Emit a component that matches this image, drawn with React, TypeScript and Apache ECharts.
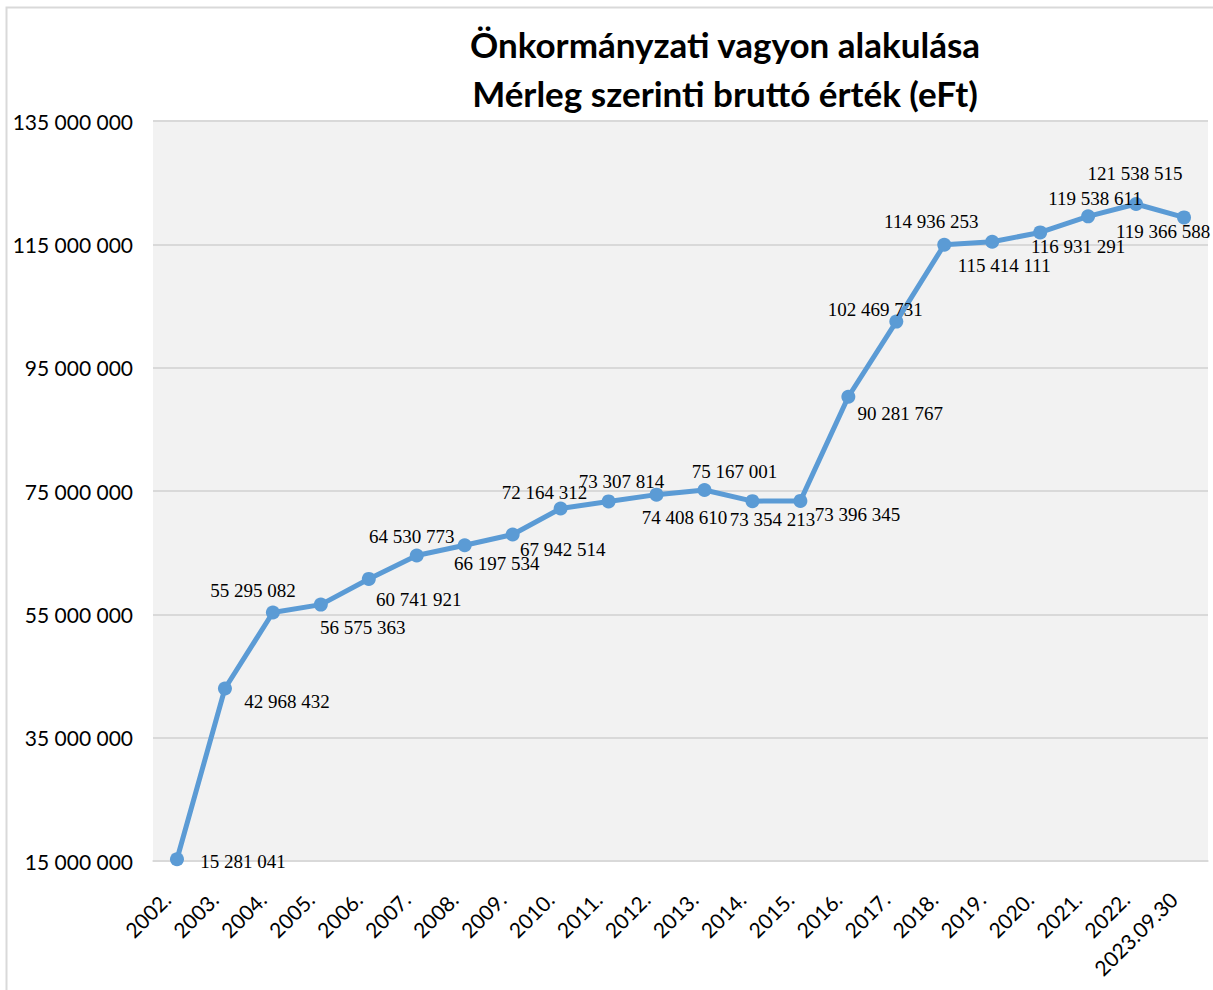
import React, { useEffect, useRef } from "react";
import * as echarts from "echarts";

const TITLE_LINE_1 = "Önkormányzati vagyon alakulása";
const TITLE_LINE_2 = "Mérleg szerinti bruttó érték (eFt)";

const CATEGORIES = [
  "2002.", "2003.", "2004.", "2005.", "2006.", "2007.", "2008.", "2009.", "2010.", "2011.",
  "2012.", "2013.", "2014.", "2015.", "2016.", "2017.", "2018.", "2019.", "2020.", "2021.",
  "2022.", "2023.09.30",
];

const VALUES = [
  15281041, 42968432, 55295082, 56575363, 60741921, 64530773, 66197534, 67942514, 72164312, 73307814,
  74408610, 75167001, 73354213, 73396345, 90281767, 102469731, 114936253, 115414111, 116931291, 119538611,
  121538515, 119366588,
];

const Y_MIN = 15000000;
const Y_MAX = 135000000;
const Y_LABEL_STEP = 20000000;
const Y_MINOR_STEP = 5000000;

// label placement offsets (label centre relative to the marker centre)
const LABEL_OFFSETS: [number, number][] = [
  [66, 2], [62, 13], [-20, -22], [42, 23], [50, 21], [-5, -19], [32, 18], [50, 15], [-16, -16], [13, -20],
  [28, 23], [30, -18], [20, 18], [57, 14], [52, 17], [-21, -12], [-13, -23], [12, 24], [38, 14], [7, -18],
  [-1, -31], [-21, 14],
];

const SYMBOL_SIZE = 14;

const fmt = (v: number) => String(Math.round(v)).replace(/\B(?=(\d{3})+(?!\d))/g, " ");

export default function App() {
  const ref = useRef<HTMLDivElement>(null);
  useEffect(() => {
    if (!ref.current) return;
    const chart = echarts.init(ref.current, null, { renderer: "svg" });
    const sansFont = "Lato, 'Open Sans', sans-serif";
    chart.setOption({
      animation: false,
      backgroundColor: "#ffffff",
      title: {
        text: TITLE_LINE_1 + "\n" + TITLE_LINE_2,
        left: 720,
        top: 14,
        textAlign: "center",
        textStyle: {
          fontFamily: sansFont,
          fontSize: 35,
          fontWeight: "bold",
          color: "#000",
          lineHeight: 49,
        },
      },
      graphic: [
        {
          type: "rect",
          shape: { x: 6.5, y: 7.5, width: 1230, height: 1010 },
          style: { fill: "none", stroke: "#d9d9d9", lineWidth: 2 },
          silent: true,
          z: 100,
        },
      ],
      grid: {
        left: 153,
        right: 5,
        top: 121,
        bottom: 129,
        show: true,
        backgroundColor: "#f2f2f2",
        borderWidth: 0,
      },
      xAxis: {
        type: "category",
        data: CATEGORIES,
        boundaryGap: true,
        axisLine: { show: true, lineStyle: { color: "#d9d9d9", width: 1.5 } },
        axisTick: { show: false },
        axisLabel: {
          rotate: 45,
          interval: 0,
          margin: 24,
          padding: [0, 15, 0, 0],
          fontFamily: sansFont,
          fontSize: 21,
          color: "#000",
        },
      },
      yAxis: {
        type: "value",
        min: Y_MIN,
        max: Y_MAX,
        interval: Y_MINOR_STEP,
        axisLine: { show: false },
        axisTick: { show: false },
        axisLabel: {
          margin: 20,
          fontFamily: sansFont,
          fontSize: 21,
          color: "#000",
          formatter: (v: number) => ((v - Y_MIN) % Y_LABEL_STEP === 0 ? fmt(v) : ""),
        },
        splitLine: {
          show: true,
          lineStyle: {
            color: ["#d9d9d9", "rgba(0,0,0,0)", "rgba(0,0,0,0)", "rgba(0,0,0,0)"],
            width: 2,
          },
        },
      },
      series: [
        {
          type: "line",
          data: VALUES.map((v, i) => ({
            value: v,
            label: {
              position: [
                SYMBOL_SIZE / 2 + LABEL_OFFSETS[i][0],
                SYMBOL_SIZE / 2 + LABEL_OFFSETS[i][1],
              ],
            },
          })),
          lineStyle: { color: "#5b9bd5", width: 5 },
          itemStyle: { color: "#5b9bd5", opacity: 1 },
          showSymbol: true,
          showAllSymbol: true,
          symbol: "circle",
          symbolSize: SYMBOL_SIZE,
          label: {
            show: true,
            align: "center",
            verticalAlign: "middle",
            fontFamily: "'Liberation Serif', 'Times New Roman', serif",
            fontSize: 19,
            color: "#000",
            formatter: (p: any) => fmt(p.value),
          },
          labelLayout: { hideOverlap: false },
          z: 3,
        },
      ],
    });
    return () => chart.dispose();
  }, []);
  return (
    <div
      ref={ref}
      style={{ position: "absolute", left: 0, top: 0, width: 1213, height: 990 }}
    />
  );
}
